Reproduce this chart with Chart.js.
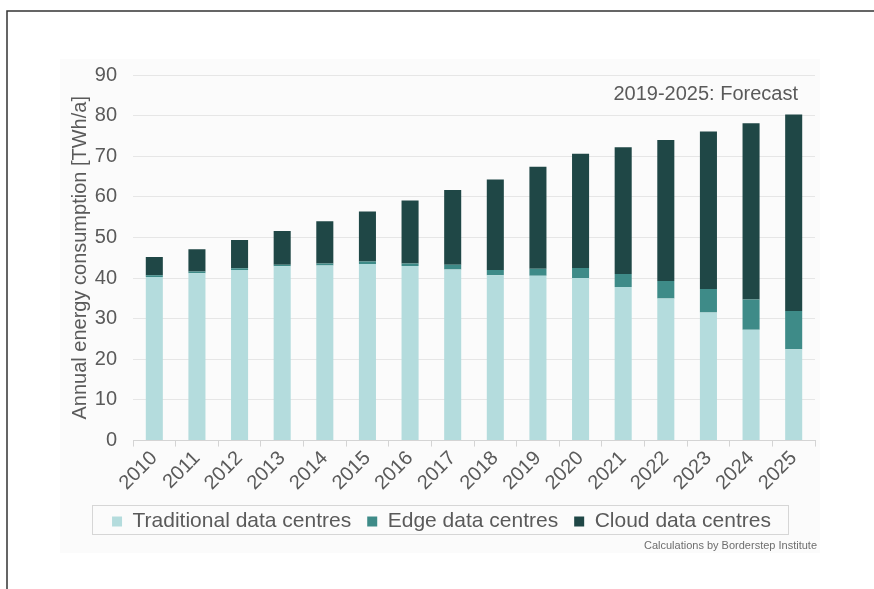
<!DOCTYPE html>
<html>
<head>
<meta charset="utf-8">
<script src="https://cdn.jsdelivr.net/npm/chart.js@4.4.1/dist/chart.umd.min.js"></script>
<style>
  html, body { margin: 0; padding: 0; background: #ffffff; }
  #wrap { position: relative; width: 874px; height: 589px; }
  canvas { display: block; }
</style>
</head>
<body>
<div id="wrap"><canvas id="c" width="874" height="589"></canvas></div>
<script>
const years = ['2010','2011','2012','2013','2014','2015','2016','2017','2018','2019','2020','2021','2022','2023','2024','2025'];
const traditional = [40.3, 41.2, 42.0, 42.9, 43.1, 43.5, 43.0, 42.1, 40.7, 40.6, 40.0, 37.8, 35.0, 31.5, 27.3, 22.5];
const edge = [0.4, 0.4, 0.4, 0.4, 0.5, 0.6, 0.6, 1.2, 1.3, 1.7, 2.5, 3.2, 4.3, 5.8, 7.4, 9.4];
const cloud = [4.5, 5.5, 7.0, 8.3, 10.4, 12.3, 15.5, 18.4, 22.3, 25.1, 28.1, 31.2, 34.7, 38.8, 43.4, 48.4];
const seriesNames = ['Traditional data centres', 'Edge data centres', 'Cloud data centres'];
const yTitle = 'Annual energy consumption [TWh/a]';
const forecastLabel = '2019-2025: Forecast';
const sourceLabel = 'Calculations by Borderstep Institute';

const FONT = "'Liberation Sans', Arial, sans-serif";
const TXT = '#5a5a5a';

const decor = {
  id: 'decor',
  beforeDraw(chart) {
    const ctx = chart.ctx;
    ctx.save();
    ctx.fillStyle = '#ffffff';
    ctx.fillRect(0, 0, chart.width, chart.height);
    ctx.fillStyle = '#fbfbfb';
    ctx.fillRect(60, 59, 760, 494);
    ctx.strokeStyle = '#333333';
    ctx.lineWidth = 1.5;
    ctx.beginPath();
    ctx.moveTo(7, chart.height);
    ctx.lineTo(7, 11);
    ctx.lineTo(chart.width, 11);
    ctx.stroke();
    ctx.restore();
  },
  afterDraw(chart) {
    const ctx = chart.ctx;
    const ca = chart.chartArea;
    const y = chart.scales.y;
    ctx.save();
    ctx.font = '20px ' + FONT;
    ctx.fillStyle = TXT;
    ctx.textAlign = 'right';
    ctx.textBaseline = 'middle';
    ctx.fillText(forecastLabel, ca.right - 17, y.getPixelForValue(85.2));
    const lg = chart.legend;
    if (lg && lg.legendHitBoxes && lg.legendHitBoxes.length) {
      const hb = lg.legendHitBoxes;
      let l = Infinity, r = -Infinity, t = Infinity, b = -Infinity;
      hb.forEach(h => { l = Math.min(l, h.left); r = Math.max(r, h.left + h.width); t = Math.min(t, h.top); b = Math.max(b, h.top + h.height); });
      ctx.strokeStyle = '#d6d6d6';
      ctx.lineWidth = 1;
      ctx.strokeRect(Math.round(l - 20) + 0.5, Math.round(t - 6) + 0.5, Math.round(r - l + 37), Math.round(b - t + 8));
      ctx.font = '11px ' + FONT;
      ctx.fillStyle = '#6e6e6e';
      ctx.textAlign = 'right';
      ctx.textBaseline = 'middle';
      ctx.fillText(sourceLabel, ca.right + 2, 546);
    }
    ctx.restore();
  }
};

new Chart(document.getElementById('c'), {
  type: 'bar',
  data: {
    labels: years,
    datasets: [
      { label: seriesNames[0], data: traditional, backgroundColor: '#b4dcdd' },
      { label: seriesNames[1], data: edge, backgroundColor: '#3e8b88' },
      { label: seriesNames[2], data: cloud, backgroundColor: '#1f4746' }
    ]
  },
  options: {
    responsive: false,
    animation: false,
    devicePixelRatio: 1,
    layout: { padding: { left: 68, right: 59, top: 75, bottom: 47 } },
    datasets: { bar: { barPercentage: 0.4, categoryPercentage: 1.0 } },
    plugins: {
      legend: {
        position: 'bottom',
        labels: {
          font: { family: FONT, size: 21 },
          color: TXT,
          boxWidth: 10,
          boxHeight: 10,
          padding: 16
        }
      },
      tooltip: { enabled: false }
    },
    scales: {
      x: {
        stacked: true,
        grid: { offset: true, drawOnChartArea: false, tickLength: 6, color: '#d4d4d4' },
        border: { color: '#d4d4d4' },
        ticks: { font: { family: FONT, size: 20 }, color: TXT, maxRotation: 45, minRotation: 45, padding: 0 }
      },
      y: {
        stacked: true,
        min: 0,
        max: 90,
        afterFit(scale) { scale.width = 65; },
        ticks: { stepSize: 10, font: { family: FONT, size: 20 }, color: TXT, padding: 16 },
        grid: { color: '#e6e6e6', drawTicks: false },
        border: { display: false },
        title: { display: true, text: yTitle, font: { family: FONT, size: 20 }, color: TXT, padding: { top: 0, bottom: 4 } }
      }
    }
  },
  plugins: [decor]
});
</script>
</body>
</html>
